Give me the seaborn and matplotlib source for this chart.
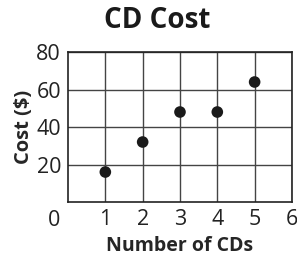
import matplotlib
matplotlib.use("Agg")
import matplotlib.pyplot as plt
import seaborn as sns
import pandas as pd

# data
num_cds = [1, 2, 3, 4, 5]
cost = [16, 32, 48, 48, 64]
x_ticks = [1, 2, 3, 4, 5, 6]
y_ticks = [20, 40, 60, 80]

sns.set_style("white")
plt.rcParams['font.family'] = ['Open Sans', 'DejaVu Sans']

df = pd.DataFrame({'cds': num_cds, 'cost': cost})

fig = plt.figure(figsize=(2.97, 2.6), dpi=100)
ax = fig.add_axes([0.229, 0.223, 0.754, 0.577])

ax.set_xlim(0, 6)
ax.set_ylim(0, 80)
ax.set_xticks(x_ticks)
ax.set_yticks(y_ticks)
ax.grid(True, color='#444444', linewidth=1.0)
ax.set_axisbelow(True)
for s in ax.spines.values():
    s.set_visible(True)
    s.set_color('#222222')
    s.set_linewidth(1.2)

sns.scatterplot(data=df, x='cds', y='cost', ax=ax, color='#1a1a1a', s=70,
                edgecolor='none', zorder=3, clip_on=False)

ax.tick_params(axis='both', length=0, labelsize=15.5, colors='#222222', pad=5)
# single origin label sits below-left of the corner
ax.text(-0.035, -0.05, '0', transform=ax.transAxes, ha='right', va='top',
        fontsize=15.5, color='#222222')

ax.set_xlabel('Number of CDs', fontsize=14, fontweight='bold', labelpad=4)
ax.set_ylabel('Cost ($)', fontsize=14.5, fontweight='bold', labelpad=2)
fig.text(0.53, 0.975, 'CD Cost', ha='center', va='top', fontsize=20,
         fontweight='bold', color='#1a1a1a')

fig.savefig('out.png', dpi=100)
